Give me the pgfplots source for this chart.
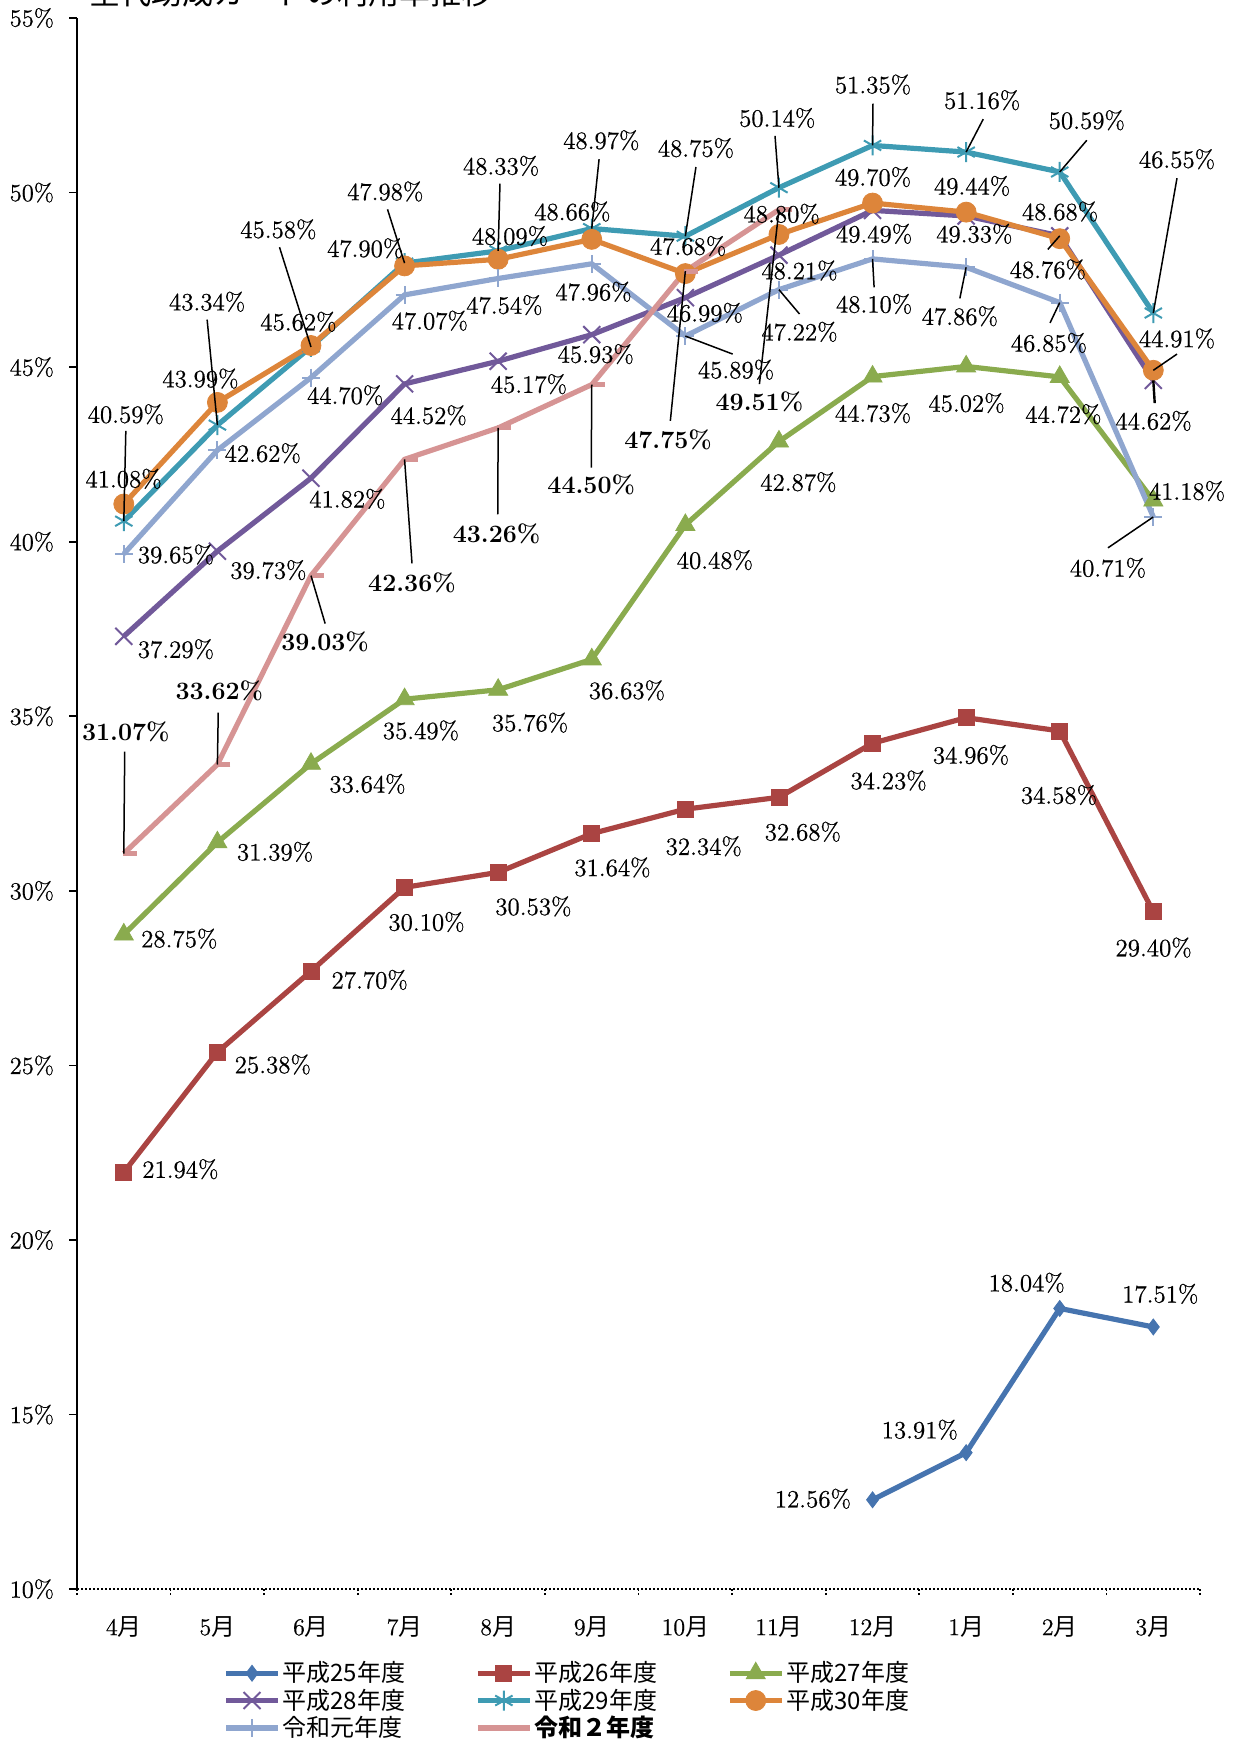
\documentclass[border=0pt]{standalone}
\usepackage{fontspec}
\usepackage{pgfplots}
\pgfplotsset{compat=1.18}
\setmainfont{Latin Modern Roman}[FakeBold=0.6]
\newfontfamily\lmplain{Latin Modern Roman}
\newfontfamily\cjk{Noto Sans CJK JP}
\definecolor{c25}{HTML}{4674AF}
\definecolor{c26}{HTML}{AA4442}
\definecolor{c27}{HTML}{8AAB4E}
\definecolor{c28}{HTML}{71599A}
\definecolor{c29}{HTML}{3E9BB3}
\definecolor{c30}{HTML}{DD853A}
\definecolor{cR1}{HTML}{8FA6CF}
\definecolor{cR2}{HTML}{D69494}
\newcommand\lf{\fontsize{12.5}{14}\selectfont}
\newcommand\dpt[2]{({(77+93.58*(#1+0.5))/1.1134},{(1589-(#2-10)*34.91)/1.1134})}
\newcommand\La[3]{\node[font=\lf] at (#1,#2) {#3\%};}
\newcommand\Lb[3]{\node[font=\lmplain\lf\bfseries] at (#1,#2) {#3\%};}
\begin{document}
\begin{tikzpicture}
\begin{axis}[
  at={(0pt,0pt)}, anchor=south west,
  scale only axis, width=561.5pt, height=785.5pt,
  xmin=-0.5, xmax=11.5, ymin=10, ymax=55,
  axis x line=bottom, axis y line=left,
  axis line style={-},
  y axis line style={black, line width=0.9pt},
  x axis line style={black, dash pattern=on 1pt off 1pt, line width=0.9pt},
  xtick={0,...,11},
  xticklabels={4{\cjk 月},5{\cjk 月},6{\cjk 月},7{\cjk 月},8{\cjk 月},9{\cjk 月},10{\cjk 月},11{\cjk 月},12{\cjk 月},1{\cjk 月},2{\cjk 月},3{\cjk 月}},
  major x tick style={draw=none},
  minor xtick={-0.5,0.5,...,11.5},
  minor x tick style={black, dash pattern=on 1pt off 1pt, line width=0.9pt},
  minor tick length=3pt,
  ytick={10,15,...,55},
  yticklabel={\pgfmathprintnumber{\tick}\%},
  y tick style={black, line width=0.9pt},
  major tick length=4pt,
  tick align=outside,
  yticklabel style={font=\fontsize{12.3}{14}\selectfont, xshift=-4pt},
  xticklabel style={font=\fontsize{12}{14}\selectfont, yshift=-6pt},
  /pgf/number format/assume math mode=true,
  clip=false,
  legend columns=3,
  legend cell align=left,
  legend style={at={(0.130,-0.0446)}, anchor=north west, draw=none, fill=none, inner sep=0pt,
    font=\cjk\fontsize{12}{14}\selectfont,
    nodes={inner sep=1pt},
    /tikz/every even column/.append style={column sep=34pt}},
  legend image code/.code={\draw[mark repeat=2,mark phase=2] plot coordinates {(0pt,0pt) (13pt,0pt) (26pt,0pt)};},
]
\addplot[c25, line width=2.6pt, mark=diamond*, mark size=4pt, mark options={solid, line width=0.4pt}]
  coordinates {(8,12.56)(9,13.91)(10,18.04)(11,17.51)};
\addplot[c26, line width=2.6pt, mark=square*, mark size=4pt, mark options={solid, line width=0.4pt}]
  coordinates {(0,21.94)(1,25.38)(2,27.70)(3,30.10)(4,30.53)(5,31.64)(6,32.34)(7,32.68)(8,34.23)(9,34.96)(10,34.58)(11,29.40)};
\addplot[c27, line width=2.6pt, mark=triangle*, mark size=5.5pt, mark options={solid, line width=0.4pt}]
  coordinates {(0,28.75)(1,31.39)(2,33.64)(3,35.49)(4,35.76)(5,36.63)(6,40.48)(7,42.87)(8,44.73)(9,45.02)(10,44.72)(11,41.18)};
\addplot[c28, line width=2.6pt, mark=x, mark size=6pt, mark options={solid, line width=1pt}]
  coordinates {(0,37.29)(1,39.73)(2,41.82)(3,44.52)(4,45.17)(5,45.93)(6,46.99)(7,48.21)(8,49.49)(9,49.33)(10,48.76)(11,44.62)};
\addplot[c29, line width=2.6pt, mark=asterisk, mark size=5pt, mark options={solid, line width=1pt}]
  coordinates {(0,40.59)(1,43.34)(2,45.58)(3,47.98)(4,48.33)(5,48.97)(6,48.75)(7,50.14)(8,51.35)(9,51.16)(10,50.59)(11,46.55)};
\addplot[c30, line width=2.6pt, mark=*, mark size=5pt, mark options={solid, line width=0.4pt}]
  coordinates {(0,41.08)(1,43.99)(2,45.62)(3,47.90)(4,48.09)(5,48.66)(6,47.68)(7,48.80)(8,49.70)(9,49.44)(10,48.68)(11,44.91)};
\addplot[cR1, line width=2.6pt, mark=+, mark size=4.5pt, mark options={solid, line width=1pt}]
  coordinates {(0,39.65)(1,42.62)(2,44.70)(3,47.07)(4,47.54)(5,47.96)(6,45.89)(7,47.22)(8,48.10)(9,47.86)(10,46.85)(11,40.71)};
\addplot[cR2, line width=2.6pt, mark=-, mark size=3.5pt, mark options={solid, line width=2.5pt, xshift=3pt}]
  coordinates {(0,31.07)(1,33.62)(2,39.03)(3,42.36)(4,43.26)(5,44.50)(6,47.75)(7,49.51)};
\legend{平成25年度,平成26年度,平成27年度,平成28年度,平成29年度,平成30年度,令和元年度,\textbf{令和２年度}}
\end{axis}
\begin{scope}[x=0.5567pt, y=-0.5567pt, shift={(-38.5pt,794.5pt)}]
\node[anchor=base west, font=\cjk\fontsize{15.5}{16}\selectfont, inner sep=0pt] at (80,4) {全代助成カードの利用率推移};
% leader lines
\begin{scope}[black, line width=0.75pt]
\draw (113,387) -- \dpt{0}{40.59};
\draw (186,287) -- \dpt{1}{43.34};
\draw (251,222) -- \dpt{2}{45.58};
\draw (348,188) -- \dpt{3}{47.98};
\draw (449,165) -- \dpt{4}{48.33};
\draw (538,143) -- \dpt{5}{48.97};
\draw (625,150) -- \dpt{6}{48.75};
\draw (696,122) -- \dpt{7}{50.14};
\draw (784,93) -- \dpt{8}{51.35};
\draw (883,107) -- \dpt{9}{51.16};
\draw (976,126) -- \dpt{10}{50.59};
\draw (1057,160) -- \dpt{11}{46.55};
\draw (112,675) -- \dpt{0}{31.07};
\draw (196,640) -- \dpt{1}{33.62};
\draw (292,560) -- \dpt{2}{39.03};
\draw (370,506) -- \dpt{3}{42.36};
\draw (447,462) -- \dpt{4}{43.26};
\draw (531,420) -- \dpt{5}{44.50};
\draw (602,378) -- \dpt{6}{47.75};
\draw (682,345) -- \dpt{7}{49.51};
\draw (658,318) -- \dpt{6}{45.89};
\draw (718,282) -- \dpt{7}{47.22};
\draw (785,258) -- \dpt{8}{48.10};
\draw (862,268) -- \dpt{9}{47.86};
\draw (943,290) -- \dpt{10}{46.85};
\draw (995,492) -- \dpt{11}{40.71};
\draw (941,224) -- \dpt{10}{48.76};
\draw (1057,318) -- \dpt{11}{44.91};
\draw[line width=1.2pt] (1037,362) -- \dpt{11}{44.62};
\end{scope}
% labels 25
\La{730}{1346}{12.56}\La{826}{1284}{13.91}\La{922}{1152}{18.04}\La{1042}{1162}{17.51}
% 26
\La{162}{1050}{21.94}\La{245}{956}{25.38}\La{332}{880}{27.70}\La{383}{828}{30.10}
\La{479}{814}{30.53}\La{550}{779}{31.64}\La{632}{760}{32.34}\La{721}{747}{32.68}
\La{798}{701}{34.23}\La{872}{678}{34.96}\La{951}{714}{34.58}\La{1036}{851}{29.40}
% 27
\La{161}{843}{28.75}\La{247}{765}{31.39}\La{330}{704}{33.64}\La{378}{656}{35.49}
\La{476}{649}{35.76}\La{563}{620}{36.63}\La{642}{503}{40.48}\La{717}{433}{42.87}
\La{784}{371}{44.73}\La{868}{362}{45.02}\La{955}{372}{44.72}\La{1066}{441}{41.18}
% 28
\La{158}{583}{37.29}\La{241}{512}{39.73}\La{312}{448}{41.82}\La{385}{373}{44.52}
\La{475}{345}{45.17}\La{535}{318}{45.93}\La{633}{281}{46.99}\La{718}{243}{48.21}
\La{785}{210}{49.49}\La{875}{210}{49.33}\La{941}{242}{48.76}\La{1036}{378}{44.62}
% 29
\La{113}{372}{40.59}\La{186}{271}{43.34}\La{250}{206}{45.58}\La{346}{172}{47.98}
\La{450}{149}{48.33}\La{540}{126}{48.97}\La{625}{133}{48.75}\La{698}{106}{50.14}
\La{784}{76}{51.35}\La{882}{90}{51.16}\La{976}{108}{50.59}\La{1057}{143}{46.55}
% 30
\La{111}{430}{41.08}\La{180}{340}{43.99}\La{268}{289}{45.62}\La{328}{223}{47.90}
\La{458}{212}{48.09}\La{514}{190}{48.66}\La{618}{221}{47.68}\La{702}{192}{48.80}
\La{784}{159}{49.70}\La{873}{167}{49.44}\La{952}{190}{48.68}\La{1057}{304}{44.91}
% R1
\La{158}{498}{39.65}\La{236}{407}{42.62}\La{310}{355}{44.70}\La{386}{288}{47.07}
\La{453}{274}{47.54}\La{533}{262}{47.96}\La{661}{332}{45.89}\La{718}{298}{47.22}
\La{785}{273}{48.10}\La{862}{284}{47.86}\La{942}{308}{46.85}\La{995}{510}{40.71}
% R2
\Lb{113}{657}{31.07}\Lb{197}{620}{33.62}\Lb{292}{576}{39.03}\Lb{370}{523}{42.36}
\Lb{446}{479}{43.26}\Lb{531}{435}{44.50}\Lb{600}{395}{47.75}\Lb{682}{361}{49.51}
\pgfresetboundingbox
\path[use as bounding box] (0,0) rectangle (1111,1568);
\end{scope}
\end{tikzpicture}
\end{document}
